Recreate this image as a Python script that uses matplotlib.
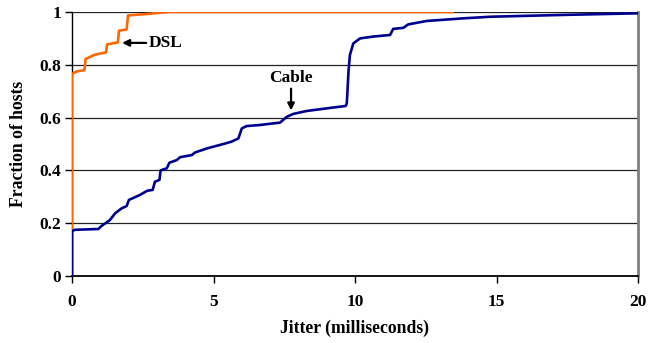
import matplotlib
matplotlib.use("Agg")
import matplotlib.pyplot as plt

# Jitter CDF for DSL and cable hosts
dsl_x = [0, 0, 0.17, 0.44, 0.48, 0.8, 1.2, 1.24, 1.62, 1.66, 1.93, 1.98, 2.6, 3.4, 13.45]
dsl_y = [0, 0.765, 0.775, 0.78, 0.822, 0.838, 0.847, 0.877, 0.885, 0.929, 0.934, 0.987, 0.992, 1.0, 1.0]

cable_x = [0, 0, 0.1, 0.93, 1.05, 1.34, 1.52, 1.75, 1.93, 2.01, 2.40, 2.66, 2.85, 2.93,
           3.09, 3.13, 3.35, 3.44, 3.70, 3.82, 4.23, 4.35, 4.76, 5.35, 5.64, 5.88,
           6.0, 6.17, 6.64, 7.35, 7.59, 7.82, 8.29, 9.0, 9.67, 9.71, 9.77, 9.82,
           9.94, 10.18, 10.65, 11.24, 11.35, 11.71, 11.88, 12.53, 13.83, 14.77,
           17.36, 20.0]
cable_y = [0, 0.17, 0.175, 0.178, 0.19, 0.212, 0.237, 0.256, 0.265, 0.288, 0.307, 0.323,
           0.326, 0.357, 0.364, 0.40, 0.408, 0.429, 0.439, 0.450, 0.458, 0.468,
           0.483, 0.50, 0.509, 0.521, 0.559, 0.568, 0.572, 0.581, 0.603, 0.614,
           0.625, 0.635, 0.644, 0.654, 0.774, 0.837, 0.881, 0.90, 0.907, 0.913,
           0.936, 0.940, 0.953, 0.966, 0.976, 0.982, 0.989, 0.995]

x_ticks = [0, 5, 10, 15, 20]
y_ticks = [0, 0.2, 0.4, 0.6, 0.8, 1.0]
y_labels = ["0", "0.2", "0.4", "0.6", "0.8", "1"]

plt.rcParams["font.family"] = ["Liberation Serif", "DejaVu Serif"]
plt.rcParams["font.weight"] = "bold"

fig = plt.figure(figsize=(6.57, 3.43), dpi=100)
ax = fig.add_axes([72 / 657, 1 - 276 / 343, 566 / 657, 264 / 343])

ax.plot(dsl_x, dsl_y, color="#FF6600", lw=1.9, solid_joinstyle="round", zorder=3)
ax.plot(cable_x, cable_y, color="#000090", lw=1.9, solid_joinstyle="round", zorder=4)

ax.set_xlim(0, 20)
ax.set_ylim(0, 1)
ax.set_xticks(x_ticks)
ax.set_xticklabels([str(t) for t in x_ticks])
ax.set_yticks(y_ticks)
ax.set_yticklabels(y_labels)
ax.tick_params(axis="both", labelsize=12.5, direction="out", length=5, width=1, color="black")
ax.tick_params(axis="x", pad=8)
ax.tick_params(axis="y", pad=3)

for y in y_ticks[1:]:
    ax.axhline(y, color="#222222", lw=0.9, zorder=1)

ax.spines["top"].set_visible(False)
ax.spines["right"].set_color("#808080")
ax.spines["right"].set_linewidth(2)
ax.spines["left"].set_color("black")
ax.spines["left"].set_linewidth(1)
ax.spines["bottom"].set_color("black")
ax.spines["bottom"].set_linewidth(1.3)

ax.set_xlabel("Jitter (milliseconds)", fontsize=12.7, fontweight="bold", labelpad=7)
ax.set_ylabel("Fraction of hosts", fontsize=12.7, fontweight="bold", labelpad=9)

arrow = dict(arrowstyle="-|>", color="black", lw=1.6, mutation_scale=10, shrinkA=0, shrinkB=0)
ax.annotate("DSL", xy=(1.77, 0.883), xytext=(2.72, 0.883), fontsize=12.5, fontweight="bold",
            ha="left", va="center", arrowprops=arrow)
ax.annotate("Cable", xy=(7.74, 0.627), xytext=(7.74, 0.72), fontsize=12.5, fontweight="bold",
            ha="center", va="bottom", arrowprops=arrow)

fig.savefig("out.png", dpi=100)
